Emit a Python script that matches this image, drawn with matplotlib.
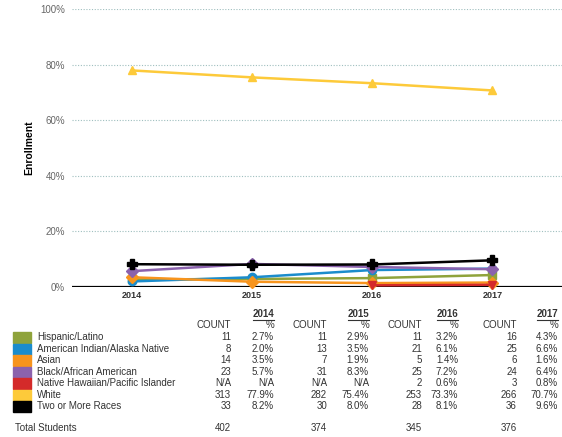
import numpy as np
import matplotlib
matplotlib.use("Agg")
import matplotlib.pyplot as plt
from matplotlib.patches import Rectangle

plt.rcParams['font.family'] = ['Liberation Sans', 'DejaVu Sans']

# data
years = ['2014', '2015', '2016', '2017']
groups = ['Hispanic/Latino', 'American Indian/Alaska Native', 'Asian',
          'Black/African American', 'Native Hawaiian/Pacific Islander',
          'White', 'Two or More Races']
colors = ['#8fa33b', '#1b8ccc', '#f7941d', '#8b62ad', '#d42a2a', '#fdca3a', '#000000']
markers = ['s', 'o', 'D', 'D', 'v', '^', 'P']

hispanic_pct = [2.7, 2.9, 3.2, 4.3]
amind_pct = [2.0, 3.5, 6.1, 6.6]
asian_pct = [3.5, 1.9, 1.4, 1.6]
black_pct = [5.7, 8.3, 7.2, 6.4]
hawaiian_pct = [np.nan, np.nan, 0.6, 0.8]
white_pct = [77.9, 75.4, 73.3, 70.7]
multi_pct = [8.2, 8.0, 8.1, 9.6]

hispanic_cnt = ['11', '11', '11', '16']
amind_cnt = ['8', '13', '21', '25']
asian_cnt = ['14', '7', '5', '6']
black_cnt = ['23', '31', '25', '24']
hawaiian_cnt = ['N/A', 'N/A', '2', '3']
white_cnt = ['313', '282', '253', '266']
multi_cnt = ['33', '30', '28', '36']
totals = ['402', '374', '345', '376']

pcts = [hispanic_pct, amind_pct, asian_pct, black_pct, hawaiian_pct, white_pct, multi_pct]
cnts = [hispanic_cnt, amind_cnt, asian_cnt, black_cnt, hawaiian_cnt, white_cnt, multi_cnt]

W, H = 562, 437
fig = plt.figure(figsize=(W / 100, H / 100), dpi=100)

def fx(x):
    return x / W

def fy(y):
    return 1 - y / H

# chart area: 0% at y=287, 100% at y=9, x from 72 to 562
ax = fig.add_axes([fx(72), fy(287), fx(562 - 72), (287 - 9) / H])
xs = np.arange(len(years))
for pct, c, m in zip(pcts, colors, markers):
    ax.plot(xs, pct, color=c, lw=1.8, marker=m, ms=6 if m != 'P' else 7,
            mec=c, mfc=c, clip_on=False, zorder=3)

ax.set_xlim(-0.5, 3.58)
ax.set_ylim(0, 100)
ax.set_yticks([0, 20, 40, 60, 80, 100])
ax.set_yticklabels(['0%', '20%', '40%', '60%', '80%', '100%'], color='#666666', fontsize=7)
ax.set_xticks(xs)
ax.set_xticklabels(years, fontweight='bold', fontsize=6.5, color='#333333')
ax.tick_params(axis='both', length=0, pad=3)
ax.tick_params(axis='y', pad=5)
for y in [20, 40, 60, 80, 100]:
    ax.axhline(y, color='#9fbfbf', lw=0.8, ls=(0, (1, 1.5)), zorder=1)
ax.axhline(0, color='black', lw=1.6, zorder=2)
for s in ax.spines.values():
    s.set_visible(False)
ax.set_facecolor('none')
fig.text(fx(29), fy(148), 'Enrollment', rotation=90, fontweight='bold',
         fontsize=7.5, ha='center', va='center')

# table below the chart
txt = dict(fontsize=7, color='#333333', va='center')
count_x = [231, 327, 422, 517]
pct_x = [274, 369, 458, 558]
for i, yr in enumerate(years):
    t = fig.text(fx(pct_x[i]), fy(314), yr, ha='right', fontweight='bold', **txt)
    fig.text(fx(pct_x[i]), fy(325), '%', ha='right', **txt)
    fig.text(fx(count_x[i]), fy(325), 'COUNT', ha='right', **txt)
    fig.text(fx(count_x[i]), fy(428), totals[i], ha='right', **txt)
    # underline the year header
    fig.add_artist(plt.Line2D([fx(pct_x[i] - 21), fx(pct_x[i])], [fy(320), fy(320)],
                              color='#333333', lw=0.8))

row_y = [337, 349, 360, 372, 383, 395, 406]
for r, (g, c) in enumerate(zip(groups, colors)):
    y = row_y[r]
    fig.add_artist(Rectangle((fx(13), fy(y + 5.5)), fx(18), 11 / H, color=c,
                             transform=fig.transFigure))
    fig.text(fx(37), fy(y), g, ha='left', **txt)
    for i in range(len(years)):
        fig.text(fx(count_x[i]), fy(y), cnts[r][i], ha='right', **txt)
        p = pcts[r][i]
        fig.text(fx(pct_x[i]), fy(y), 'N/A' if np.isnan(p) else f'{p:.1f}%',
                 ha='right', **txt)
fig.text(fx(15), fy(428), 'Total Students', ha='left', **txt)

fig.savefig('out.png', dpi=100)
